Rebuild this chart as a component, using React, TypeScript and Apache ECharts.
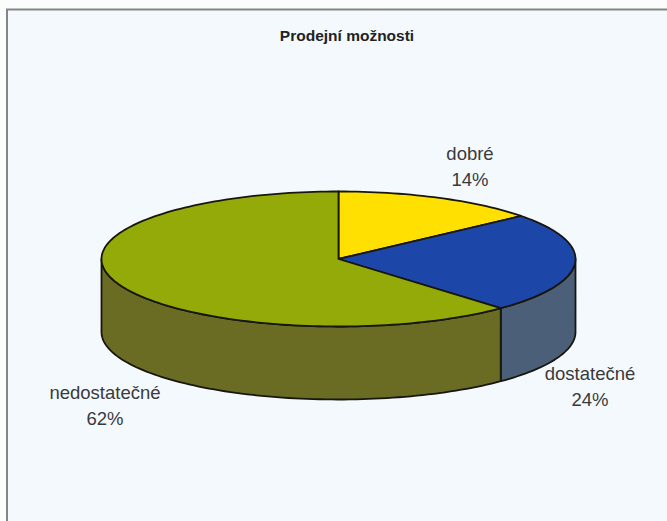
import React, { useEffect, useRef } from "react";
import * as echarts from "echarts";

const title = "Prodejní možnosti";
const categories = ["dobré", "dostatečné", "nedostatečné"];
const shares = [14, 24, 62];

const topColors = ["#ffe000", "#1c47a8", "#94aa08"];
const wallColors = ["#807000", "#4c5f78", "#6a6c24"];
const labelCentres = [
  [470, 166],
  [590, 386],
  [105, 405],
];

const CX = 338.5;
const CY = 259;
const RX = 237;
const RY = 67.5;
const DEPTH = 73;
const EDGE = "#17170f";
const total = shares.reduce((a, b) => a + b, 0);

const pt = (deg: number, dy = 0) => {
  const r = (deg * Math.PI) / 180;
  return [CX + RX * Math.sin(r), CY - RY * Math.cos(r) + dy];
};
const arc = (from: number, to: number, dy = 0) => {
  const pts: number[][] = [];
  const n = Math.max(2, Math.ceil((to - from) / 1.5));
  for (let i = 0; i <= n; i++) pts.push(pt(from + ((to - from) * i) / n, dy));
  return pts;
};

const renderSlice = (params: any, api: any) => {
  const i = params.dataIndex;
  const before = shares.slice(0, i).reduce((a, b) => a + b, 0);
  const start = (before / total) * 360;
  const end = start + (api.value(0) / total) * 360;
  const children: any[] = [];
  const wallFrom = Math.max(start, 90);
  const wallTo = Math.min(end, 270);
  if (wallTo > wallFrom) {
    const upper = arc(wallFrom, wallTo);
    const lower = arc(wallFrom, wallTo, DEPTH).reverse();
    children.push({
      type: "polygon",
      shape: { points: [...upper, ...lower] },
      style: { fill: wallColors[i], stroke: EDGE, lineWidth: 1.8, lineJoin: "round" },
    });
  }
  children.push({
    type: "polygon",
    shape: { points: [[CX, CY], ...arc(start, end)] },
    style: { fill: topColors[i], stroke: EDGE, lineWidth: 1.8, lineJoin: "round" },
  });
  const [lx, ly] = labelCentres[i];
  children.push({
    type: "text",
    x: lx,
    y: ly,
    style: {
      text: `${categories[i]}\n${api.value(0)}%`,
      fill: "#3a3a3a",
      font: "18.5px 'Liberation Sans'",
      lineHeight: 26,
      align: "center",
      verticalAlign: "middle",
    },
  });
  return { type: "group", children };
};

export default function App() {
  const ref = useRef<HTMLDivElement>(null);
  useEffect(() => {
    document.body.style.margin = "0";
    const chart = echarts.init(ref.current!, undefined, { renderer: "svg" });
    chart.setOption({
      animation: false,
      backgroundColor: "#fbfcfc",
      graphic: [
        {
          type: "rect",
          z: -1,
          shape: { x: 7, y: 9.5, width: 670, height: 520 },
          style: { fill: "#f4f9fd", stroke: "#858585", lineWidth: 2 },
        },
      ],
      title: {
        text: title,
        left: 342,
        top: 22,
        textAlign: "center",
        textStyle: { fontFamily: "Liberation Sans", fontSize: 15.5, fontWeight: "bold", color: "#222" },
      },
      series: [
        {
          type: "custom",
          coordinateSystem: "none",
          data: shares.map((v, i) => ({ name: categories[i], value: [v] })),
          renderItem: renderSlice,
          clip: false,
        },
      ],
    });
    return () => chart.dispose();
  }, []);
  return <div ref={ref} style={{ width: 667, height: 521 }} />;
}
